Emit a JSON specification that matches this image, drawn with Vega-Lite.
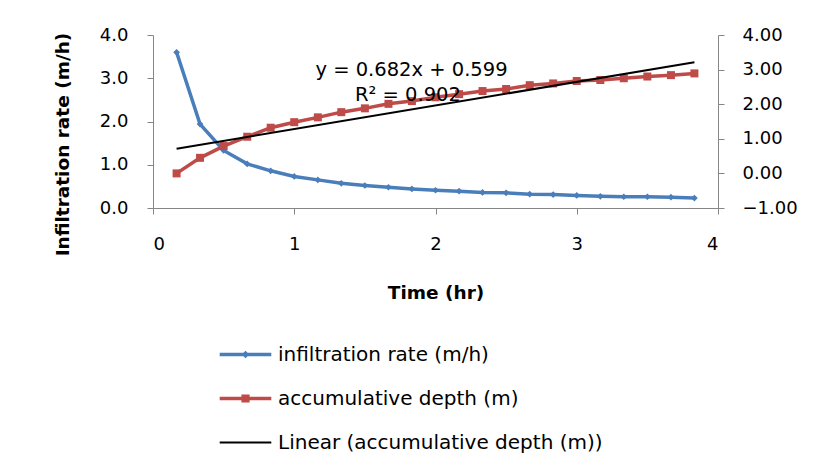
{
  "$schema": "https://vega.github.io/schema/vega-lite/v6.json",
  "width": 565,
  "height": 173,
  "autosize": {"type": "none"},
  "padding": {"left": 153, "top": 35, "right": 96, "bottom": 260},
  "background": "white",
  "config": {
    "view": {"stroke": null},
    "font": "DejaVu Sans",
    "axis": {
      "grid": false,
      "domainColor": "#868686",
      "tickColor": "#868686",
      "tickSize": 6,
      "labelFont": "DejaVu Sans",
      "labelFontSize": 18,
      "labelColor": "#000000",
      "titleFont": "DejaVu Sans",
      "titleFontSize": 18.5,
      "titleFontWeight": "bold",
      "titleColor": "#000000"
    }
  },
  "datasets": {
    "rate": [
      {"time": 0.167, "value": 3.60, "series": "infiltration rate (m/h)"},
      {"time": 0.333, "value": 1.94, "series": "infiltration rate (m/h)"},
      {"time": 0.5, "value": 1.33, "series": "infiltration rate (m/h)"},
      {"time": 0.667, "value": 1.02, "series": "infiltration rate (m/h)"},
      {"time": 0.833, "value": 0.86, "series": "infiltration rate (m/h)"},
      {"time": 1.0, "value": 0.73, "series": "infiltration rate (m/h)"},
      {"time": 1.167, "value": 0.65, "series": "infiltration rate (m/h)"},
      {"time": 1.333, "value": 0.57, "series": "infiltration rate (m/h)"},
      {"time": 1.5, "value": 0.52, "series": "infiltration rate (m/h)"},
      {"time": 1.667, "value": 0.48, "series": "infiltration rate (m/h)"},
      {"time": 1.833, "value": 0.44, "series": "infiltration rate (m/h)"},
      {"time": 2.0, "value": 0.41, "series": "infiltration rate (m/h)"},
      {"time": 2.167, "value": 0.39, "series": "infiltration rate (m/h)"},
      {"time": 2.333, "value": 0.36, "series": "infiltration rate (m/h)"},
      {"time": 2.5, "value": 0.35, "series": "infiltration rate (m/h)"},
      {"time": 2.667, "value": 0.32, "series": "infiltration rate (m/h)"},
      {"time": 2.833, "value": 0.31, "series": "infiltration rate (m/h)"},
      {"time": 3.0, "value": 0.29, "series": "infiltration rate (m/h)"},
      {"time": 3.167, "value": 0.27, "series": "infiltration rate (m/h)"},
      {"time": 3.333, "value": 0.26, "series": "infiltration rate (m/h)"},
      {"time": 3.5, "value": 0.26, "series": "infiltration rate (m/h)"},
      {"time": 3.667, "value": 0.25, "series": "infiltration rate (m/h)"},
      {"time": 3.833, "value": 0.23, "series": "infiltration rate (m/h)"}
    ],
    "depth": [
      {"time": 0.167, "value": 0.00, "series": "accumulative depth (m)"},
      {"time": 0.333, "value": 0.45, "series": "accumulative depth (m)"},
      {"time": 0.5, "value": 0.79, "series": "accumulative depth (m)"},
      {"time": 0.667, "value": 1.06, "series": "accumulative depth (m)"},
      {"time": 0.833, "value": 1.32, "series": "accumulative depth (m)"},
      {"time": 1.0, "value": 1.48, "series": "accumulative depth (m)"},
      {"time": 1.167, "value": 1.62, "series": "accumulative depth (m)"},
      {"time": 1.333, "value": 1.77, "series": "accumulative depth (m)"},
      {"time": 1.5, "value": 1.88, "series": "accumulative depth (m)"},
      {"time": 1.667, "value": 2.01, "series": "accumulative depth (m)"},
      {"time": 1.833, "value": 2.09, "series": "accumulative depth (m)"},
      {"time": 2.0, "value": 2.20, "series": "accumulative depth (m)"},
      {"time": 2.167, "value": 2.29, "series": "accumulative depth (m)"},
      {"time": 2.333, "value": 2.38, "series": "accumulative depth (m)"},
      {"time": 2.5, "value": 2.44, "series": "accumulative depth (m)"},
      {"time": 2.667, "value": 2.55, "series": "accumulative depth (m)"},
      {"time": 2.833, "value": 2.60, "series": "accumulative depth (m)"},
      {"time": 3.0, "value": 2.67, "series": "accumulative depth (m)"},
      {"time": 3.167, "value": 2.70, "series": "accumulative depth (m)"},
      {"time": 3.333, "value": 2.75, "series": "accumulative depth (m)"},
      {"time": 3.5, "value": 2.80, "series": "accumulative depth (m)"},
      {"time": 3.667, "value": 2.84, "series": "accumulative depth (m)"},
      {"time": 3.833, "value": 2.89, "series": "accumulative depth (m)"}
    ],
    "trend": [
      {"time": 0.167, "value": 0.713, "series": "Linear (accumulative depth (m))"},
      {"time": 3.833, "value": 3.213, "series": "Linear (accumulative depth (m))"}
    ],
    "eqtext": [
      {"eqx": 1.83, "eqy": 2.99, "eq": "y = 0.682x + 0.599"},
      {"eqx": 1.805, "eqy": 2.27, "eq": "R² = 0.902"}
    ]
  },
  "encoding": {
    "x": {
      "field": "time",
      "type": "quantitative",
      "scale": {"domain": [0, 4], "nice": false, "zero": false},
      "axis": {
        "values": [0, 1, 2, 3, 4],
        "format": "d",
        "labelPadding": 21,
        "title": "Time (hr)",
        "titleY": 84,
        "titleBaseline": "middle"
      }
    }
  },
  "layer": [
    {
      "data": {"name": "rate"},
      "encoding": {
        "y": {
          "field": "value",
          "type": "quantitative",
          "scale": {"domain": [0, 4], "nice": false},
          "axis": {
            "orient": "left",
            "values": [0, 1, 2, 3, 4],
            "format": ".1f",
            "labelPadding": 19,
            "title": "Infiltration rate (m/h)",
            "titleX": -91,
            "titleY": 109,
            "titleAlign": "center",
            "titleBaseline": "middle",
            "titleAngle": -90
          }
        },
        "color": {
          "field": "series",
          "type": "nominal",
          "scale": {
            "domain": ["infiltration rate (m/h)", "accumulative depth (m)", "Linear (accumulative depth (m))"],
            "range": ["#4A7EBB", "#BE4B48", "#000000"]
          },
          "legend": {
            "title": null,
            "orient": "none",
            "legendX": 71,
            "legendY": 298,
            "direction": "vertical",
            "padding": 0,
            "rowPadding": 12,
            "symbolSize": 1849,
            "symbolStrokeWidth": 0,
            "labelFont": "DejaVu Sans",
            "labelFontSize": 20,
            "labelColor": "#000000",
            "labelOffset": 11,
            "labelLimit": 500,
            "encode": {
              "symbols": {
                "update": {
                  "shape": {"signal": "datum.value === 'infiltration rate (m/h)' ? 'M-1.2,-0.08L1.2,-0.08L1.2,0.08L-1.2,0.08Z M0,-0.18L0.18,0L0,0.18L-0.18,0Z' : datum.value === 'accumulative depth (m)' ? 'M-1.2,-0.08L1.2,-0.08L1.2,0.08L-1.2,0.08Z M-0.19,-0.19L0.19,-0.19L0.19,0.19L-0.19,0.19Z' : 'M-1.2,-0.045L1.2,-0.045L1.2,0.045L-1.2,0.045Z'"},
                  "fill": {"signal": "datum.value === 'infiltration rate (m/h)' ? '#4A7EBB' : datum.value === 'accumulative depth (m)' ? '#BE4B48' : '#000000'"},
                  "stroke": {"value": "transparent"},
                  "opacity": {"value": 1}
                }
              }
            }
          }
        }
      },
      "layer": [
        {"mark": {"type": "line", "strokeWidth": 3.5}},
        {"mark": {"type": "point", "shape": "diamond", "filled": true, "size": 45, "opacity": 1}}
      ]
    },
    {
      "encoding": {
        "y": {
          "field": "value",
          "type": "quantitative",
          "scale": {"domain": [-1, 4], "nice": false, "zero": false},
          "axis": {
            "orient": "right",
            "values": [-1, 0, 1, 2, 3, 4],
            "format": ".2f",
            "labelPadding": 18,
            "title": null
          }
        }
      },
      "layer": [
        {
          "data": {"name": "depth"},
          "encoding": {
            "color": {
              "field": "series",
              "type": "nominal",
              "scale": {
                "domain": ["infiltration rate (m/h)", "accumulative depth (m)", "Linear (accumulative depth (m))"],
                "range": ["#4A7EBB", "#BE4B48", "#000000"]
              }
            }
          },
          "layer": [
            {"mark": {"type": "line", "strokeWidth": 3.5}},
            {"mark": {"type": "point", "shape": "square", "filled": true, "size": 64, "opacity": 1}}
          ]
        },
        {
          "data": {"name": "trend"},
          "mark": {"type": "line", "strokeWidth": 2},
          "encoding": {
            "color": {
              "field": "series",
              "type": "nominal",
              "scale": {
                "domain": ["infiltration rate (m/h)", "accumulative depth (m)", "Linear (accumulative depth (m))"],
                "range": ["#4A7EBB", "#BE4B48", "#000000"]
              }
            }
          }
        },
        {
          "data": {"name": "eqtext"},
          "mark": {"type": "text", "font": "DejaVu Sans", "fontSize": 19.5, "fill": "#000000", "align": "center", "baseline": "middle"},
          "encoding": {
            "x": {"field": "eqx", "type": "quantitative"},
            "y": {"field": "eqy", "type": "quantitative"},
            "text": {"field": "eq", "type": "nominal"}
          }
        }
      ]
    }
  ],
  "resolve": {"scale": {"y": "independent"}}
}
